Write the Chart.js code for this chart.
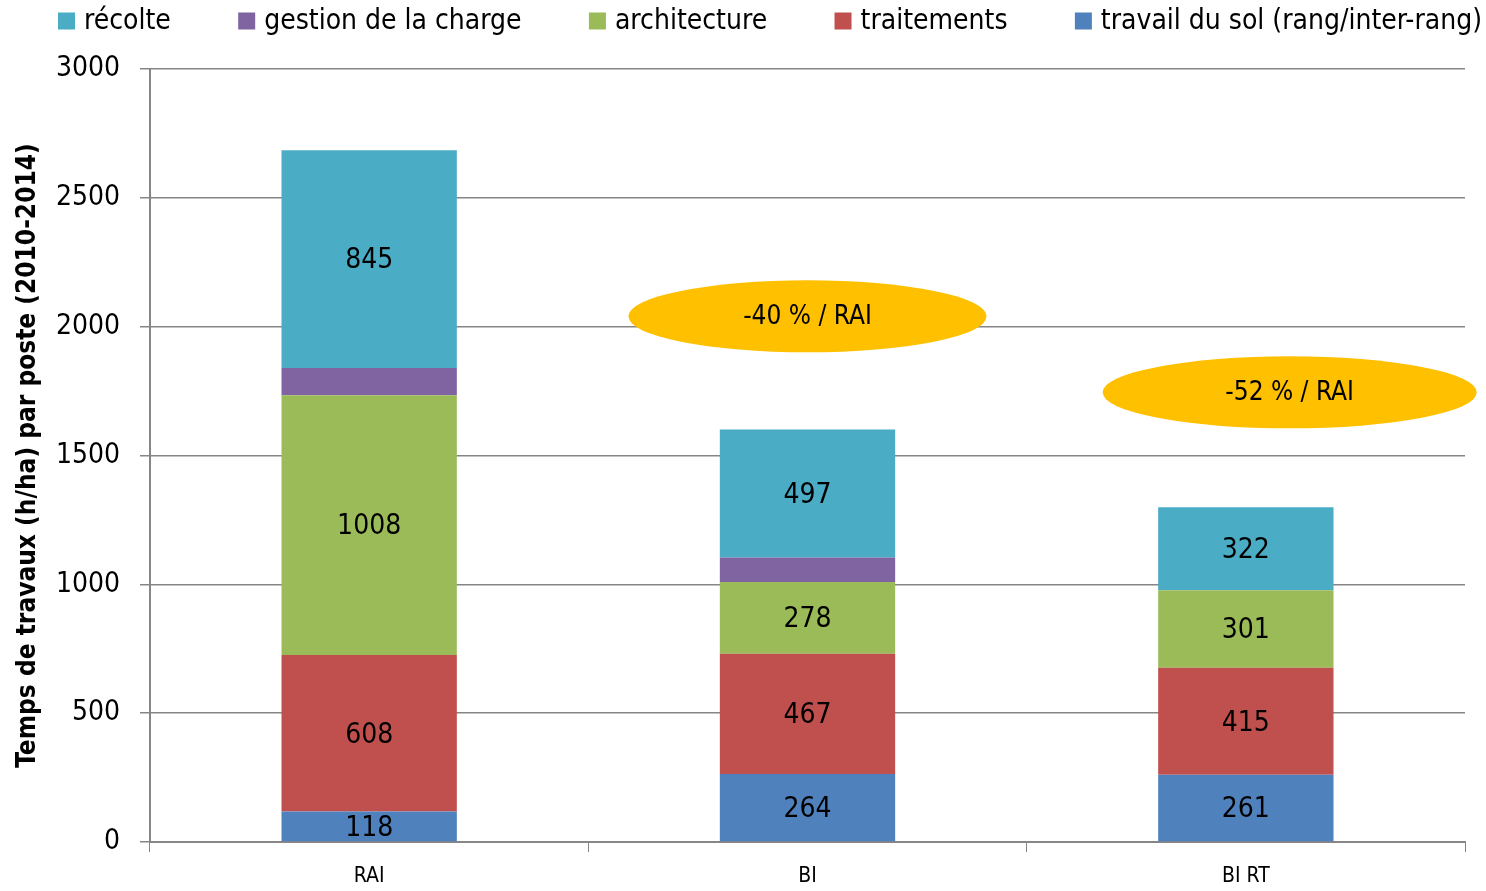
<!DOCTYPE html>
<html>
<head>
<meta charset="utf-8">
<script src="https://cdn.jsdelivr.net/npm/chart.js@4"></script>
<style>
  html, body { margin: 0; padding: 0; background: #fff; }
  #wrap { width: 1486px; height: 891px; }
</style>
</head>
<body>
<div id="wrap"><canvas id="chart"></canvas></div>
<script>
const categories = ["RAI", "BI", "BI RT"];
const travailSol = [118, 264, 261];
const traitements = [608, 467, 415];
const architecture = [1008, 278, 301];
const gestionCharge = [106, 95, 0];
const recolte = [845, 497, 322];

// bubbles above the bars (category, value, text)
const noteCategories = ["BI", "BI RT"];
const noteValues = [2040, 1745];
const noteTexts = ["-40 % / RAI", "-52 % / RAI"];

const FONT = "'DejaVu Sans Condensed', 'Liberation Sans Narrow', 'Liberation Sans', sans-serif";

const segmentLabels = {
  id: "segmentLabels",
  afterDatasetsDraw(chart) {
    const ctx = chart.ctx;
    ctx.save();
    ctx.font = "28px " + FONT;
    ctx.fillStyle = "#000";
    ctx.textAlign = "center";
    ctx.textBaseline = "middle";
    chart.data.datasets.forEach((ds, i) => {
      if (!ds.showLabels) return;
      chart.getDatasetMeta(i).data.forEach((bar, j) => {
        const v = ds.data[j];
        if (!v) return;
        ctx.fillText(String(v), bar.x, (bar.y + bar.base) / 2 + 2);
      });
    });
    ctx.restore();
  }
};

const notes = {
  id: "notes",
  afterDatasetsDraw(chart) {
    const ctx = chart.ctx;
    const xs = chart.scales.x, ys = chart.scales.y;
    const shift = [0, 0.1];       // fraction of a category, to the right
    const radii = [[179, 36], [187, 36]];
    const catW = xs.getPixelForValue(1) - xs.getPixelForValue(0);
    ctx.save();
    noteCategories.forEach((c, i) => {
      const cx = xs.getPixelForValue(categories.indexOf(c)) + shift[i] * catW;
      const cy = ys.getPixelForValue(noteValues[i]);
      ctx.beginPath();
      ctx.ellipse(cx, cy, radii[i][0], radii[i][1], 0, 0, Math.PI * 2);
      ctx.fillStyle = "#FFC000";
      ctx.fill();
      ctx.fillStyle = "#000";
      ctx.font = "26px " + FONT;
      ctx.textAlign = "center";
      ctx.textBaseline = "middle";
      ctx.fillText(noteTexts[i], cx, cy + 1);
    });
    ctx.restore();
  }
};

// legend across the top, items spread out like the original
const topLegend = {
  id: "topLegend",
  afterDraw(chart) {
    const ctx = chart.ctx;
    const items = chart.data.datasets.slice().reverse();
    const box = 17, gapText = 9, left = 58, right = 1482, y = 21;
    ctx.save();
    ctx.font = "28px " + FONT;
    ctx.textBaseline = "middle";
    const widths = items.map(d => box + gapText + ctx.measureText(d.label).width);
    const used = widths.reduce((a, b) => a + b, 0);
    const gap = (right - left - used) / (items.length - 1);
    let x = left;
    items.forEach((d, i) => {
      ctx.fillStyle = d.backgroundColor;
      ctx.fillRect(x, y - box / 2, box, box);
      ctx.fillStyle = "#000";
      ctx.fillText(d.label, x + box + gapText, y + 1);
      x += widths[i] + gap;
    });
    ctx.restore();
  }
};

new Chart(document.getElementById("chart"), {
  type: "bar",
  data: {
    labels: categories,
    datasets: [
      { label: "travail du sol (rang/inter-rang)", data: travailSol, backgroundColor: "#4F81BD", showLabels: true },
      { label: "traitements", data: traitements, backgroundColor: "#C0504D", showLabels: true },
      { label: "architecture", data: architecture, backgroundColor: "#9BBB59", showLabels: true },
      { label: "gestion de la charge", data: gestionCharge, backgroundColor: "#8064A2", showLabels: false },
      { label: "récolte", data: recolte, backgroundColor: "#4BACC6", showLabels: true }
    ].map(d => Object.assign(d, { barPercentage: 0.4, categoryPercentage: 1, borderWidth: 0 }))
  },
  options: {
    responsive: true,
    maintainAspectRatio: false,
    animation: false,
    layout: { padding: { left: 13, right: 21, top: 69, bottom: 0 } },
    plugins: {
      tooltip: { enabled: false },
      legend: { display: false }
    },
    scales: {
      x: {
        stacked: true,
        border: { color: "#868686", width: 2 },
        grid: { offset: true, drawOnChartArea: false, color: "#868686", tickLength: 10, lineWidth: 1 },
        ticks: { color: "#000", font: { family: FONT, size: 21 }, padding: 12 },
        afterFit: s => { s.height = 49; }
      },
      y: {
        stacked: true,
        min: 0,
        max: 3000,
        border: { color: "#868686", width: 2 },
        grid: { color: "#868686", tickLength: 10, lineWidth: 1.5 },
        ticks: {
          stepSize: 500,
          color: "#000",
          font: { family: FONT, size: 28 },
          padding: 20,
          callback: v => String(v)
        },
        title: {
          display: true,
          text: "Temps de travaux (h/ha) par poste (2010-2014)",
          color: "#000",
          font: { family: FONT, size: 26, weight: "bold" },
          padding: { top: 0, bottom: 0 }
        },
        afterFit: s => { s.width = 137; }
      }
    }
  },
  plugins: [segmentLabels, notes, topLegend]
});
</script>
</body>
</html>
